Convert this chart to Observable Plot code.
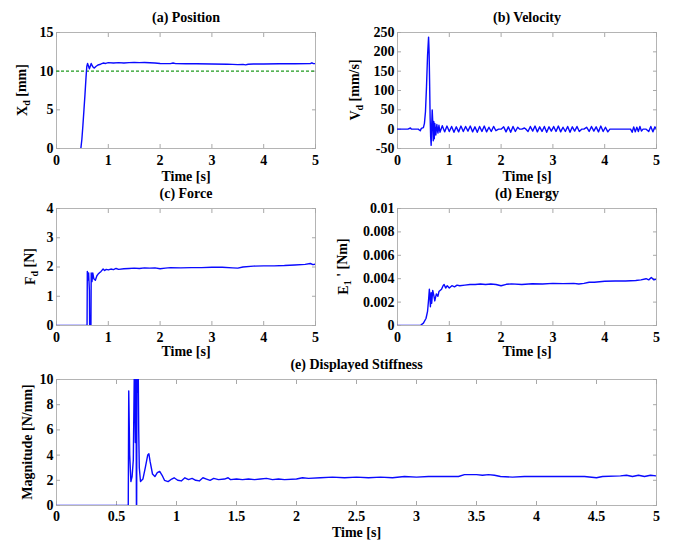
<!DOCTYPE html>
<html><head><meta charset="utf-8">
<script src="https://cdn.jsdelivr.net/npm/d3@7"></script>
<script src="https://cdn.jsdelivr.net/npm/@observablehq/plot@0.6"></script>
<style>
body{margin:0;background:#fff}
#chart{position:relative;width:673px;height:545px;background:#fff;overflow:hidden}
#chart svg{position:absolute}
#chart svg, #chart svg text, #chart svg tspan{font-family:"Liberation Serif","Times New Roman",serif !important;font-weight:bold !important}
</style>
</head><body><div id="chart"></div>
<script>
// ---------- data ----------
const timeTicks = [0, 1, 2, 3, 4, 5];
const timeTicksE = [0, 0.5, 1, 1.5, 2, 2.5, 3, 3.5, 4, 4.5, 5];
const posTicks = [0, 5, 10, 15];
const velTicks = [-50, 0, 50, 100, 150, 200, 250];
const forceTicks = [0, 1, 2, 3, 4];
const energyTicks = [0, 0.002, 0.004, 0.006, 0.008, 0.01];
const stiffTicks = [0, 2, 4, 6, 8, 10];
const positionReference = [10];

const positionData = [
  [0.47,0],[0.49,1.2],[0.51,3],[0.53,5],[0.55,7],[0.57,9.2],[0.585,10.6],[0.6,11.0],
  [0.62,10.6],[0.635,10.3],[0.65,10.6],[0.67,11.0],[0.69,10.7],[0.71,10.5],[0.73,10.4],
  [0.76,10.6],[0.8,10.8],[0.85,10.9],[0.9,11.05],[0.95,11.0],[1.0,11.1],[1.1,11.05],
  [1.2,11.1],[1.3,11.05],[1.4,11.1],[1.5,11.12],[1.6,11.1],[1.7,11.12],[1.8,11.08],
  [1.9,11.05],[2.0,11.0],[2.2,10.98],[2.25,11.05],[2.3,10.97],[2.5,10.95],[2.7,10.95],
  [3.0,10.92],[3.3,10.9],[3.4,10.88],[3.5,10.85],[3.6,10.88],[3.65,10.82],[3.7,10.9],
  [3.8,10.92],[4.0,10.93],[4.3,10.95],[4.6,10.95],[4.9,10.97],[4.93,11.08],[4.96,10.97],[5.0,10.97]
];

const velocityData = [
  [0,0],[0.1,0],[0.2,0],[0.25,3],[0.27,0],[0.4,0],[0.44,-4],[0.46,2],[0.5,4],[0.52,15],
  [0.54,45],[0.56,110],[0.58,190],[0.6,238],[0.61,200],[0.62,120],[0.63,30],[0.64,-20],
  [0.65,-42],[0.66,10],[0.67,50],[0.68,20],[0.69,-30],[0.7,20],[0.71,-25],[0.72,15],
  [0.74,-15],[0.76,12],[0.78,-10],[0.8,10],
  [0.82,-8],[0.865,9],[0.91,-7],[0.955,8],[1.0,-6],[1.045,7],[1.09,-8],[1.135,6],[1.18,-7],
  [1.225,8],[1.27,-6],[1.315,7],[1.36,-5],[1.405,8],[1.45,-7],[1.495,6],[1.54,-8],[1.585,7],
  [1.63,-6],[1.675,8],[1.72,-7],[1.765,5],[1.81,-6],[1.855,7],[1.9,-4],[1.95,0],[2.0,0],
  [2.05,6],[2.095,-7],[2.14,6],[2.185,-8],[2.23,7],[2.275,-6],[2.32,5],[2.36,0],[2.4,0],
  [2.45,3],[2.48,0],[2.52,-6],[2.565,7],[2.61,-5],[2.655,8],[2.7,-7],[2.745,6],[2.79,-6],
  [2.835,7],[2.88,-8],[2.925,6],[2.97,-5],[3.015,7],[3.06,-6],[3.105,8],[3.15,-7],[3.195,5],
  [3.24,-6],[3.285,7],[3.33,-8],[3.375,6],[3.42,-5],[3.465,7],[3.51,-6],[3.555,0],[3.6,0],
  [3.65,5],[3.7,-6],[3.745,7],[3.79,-5],[3.835,6],[3.88,-7],[3.925,8],[3.97,-6],[4.015,5],
  [4.06,-7],[4.1,0],[4.2,0],[4.3,0],[4.4,0],[4.5,0],[4.53,-8],[4.56,6],[4.59,-7],[4.62,5],
  [4.65,-6],[4.68,7],[4.71,-5],[4.74,0],[4.8,0],[4.85,-6],[4.89,7],[4.93,-7],[4.97,6],[5.0,0]
];

const forceData = [
  [0,0],[0.59,0],[0.595,1.85],[0.61,1.55],[0.62,1.8],[0.635,1.2],[0.64,0],[0.665,0],
  [0.67,1.8],[0.685,1.5],[0.7,1.8],[0.72,1.6],[0.75,1.55],[0.78,1.7],[0.8,1.75],[0.83,1.8],
  [0.86,1.85],[0.9,1.93],[0.93,1.88],[0.96,1.92],[1.0,1.9],[1.05,1.93],[1.1,1.91],[1.15,1.95],
  [1.2,1.92],[1.3,1.94],[1.4,1.95],[1.5,1.96],[1.6,1.95],[1.7,1.97],[1.8,1.96],[1.9,1.97],
  [2.0,1.94],[2.1,1.96],[2.2,1.98],[2.4,1.97],[2.6,1.98],[2.8,1.98],[3.0,1.99],[3.2,1.99],
  [3.4,1.97],[3.5,1.96],[3.6,2.0],[3.8,2.03],[4.0,2.04],[4.2,2.04],[4.4,2.05],[4.6,2.07],
  [4.8,2.09],[4.9,2.12],[4.95,2.08],[5.0,2.1]
];

const energyData = [
  [0,0],[0.4,0],[0.45,0.00003],[0.5,0.0002],[0.55,0.0006],[0.58,0.0012],[0.6,0.0022],
  [0.615,0.0031],[0.625,0.0025],[0.635,0.0016],[0.65,0.0028],[0.66,0.0019],[0.68,0.003],
  [0.7,0.0026],[0.72,0.0021],[0.75,0.0027],[0.78,0.0025],[0.8,0.0029],[0.85,0.0031],
  [0.88,0.0034],[0.9,0.0035],[0.93,0.0032],[0.96,0.0034],[1.0,0.0032],[1.05,0.0034],
  [1.1,0.0033],[1.15,0.00345],[1.2,0.0034],[1.3,0.00345],[1.4,0.0035],[1.5,0.0035],
  [1.6,0.00355],[1.7,0.0035],[1.8,0.00355],[1.9,0.0035],[2.0,0.0034],[2.1,0.00352],
  [2.2,0.00356],[2.4,0.0035],[2.6,0.00357],[2.8,0.00355],[3.0,0.0036],[3.2,0.00358],
  [3.4,0.0036],[3.5,0.00355],[3.6,0.0036],[3.7,0.0037],[3.8,0.0037],[4.0,0.00378],
  [4.2,0.0038],[4.4,0.0038],[4.6,0.00385],[4.7,0.0039],[4.8,0.004],[4.85,0.0039],
  [4.9,0.0041],[4.95,0.0039],[5.0,0.00395]
];

const stiffnessData = [
  [0,0],[0.598,0],[0.602,9.1],[0.61,4],[0.62,1.9],[0.63,2.3],[0.64,3.6],[0.65,12],
  [0.657,5],[0.662,12],[0.666,0],[0.668,0],[0.671,12],[0.676,9],[0.68,12],[0.685,6],
  [0.69,3],[0.7,1.9],[0.72,2.1],[0.74,3.0],[0.76,4.0],[0.77,4.1],[0.78,3.5],[0.8,2.5],
  [0.82,2.3],[0.84,2.6],[0.86,2.7],[0.88,2.4],[0.9,2.0],[0.93,1.9],[0.96,2.1],[0.98,2.2],
  [1.01,2.0],[1.04,1.95],[1.07,2.2],[1.1,2.05],[1.13,2.15],[1.16,2.0],[1.19,1.95],[1.22,2.2],
  [1.25,2.1],[1.28,2.0],[1.31,2.15],[1.35,2.05],[1.4,2.1],[1.43,2.2],[1.45,2.05],[1.5,2.1],
  [1.55,2.05],[1.6,2.1],[1.65,2.05],[1.7,2.1],[1.75,2.15],[1.8,2.05],[1.85,2.1],[1.9,2.05],
  [2.0,2.1],[2.05,2.2],[2.1,2.15],[2.2,2.2],[2.3,2.25],[2.4,2.2],[2.5,2.25],[2.6,2.2],
  [2.7,2.25],[2.8,2.2],[2.9,2.3],[3.0,2.25],[3.1,2.3],[3.2,2.3],[3.35,2.3],[3.4,2.45],
  [3.5,2.45],[3.55,2.4],[3.6,2.45],[3.65,2.4],[3.7,2.3],[3.8,2.25],[3.9,2.3],[4.0,2.3],
  [4.1,2.3],[4.2,2.3],[4.4,2.3],[4.5,2.2],[4.55,2.3],[4.7,2.35],[4.75,2.4],[4.8,2.3],
  [4.85,2.4],[4.9,2.3],[4.95,2.4],[5.0,2.35]
];

const titles = ["(a) Position", "(b) Velocity", "(c) Force", "(d) Energy", "(e) Displayed Stiffness"];
const xLabel = "Time [s]";
const yLabelA = [["X"], ["d", "sub"], [" [mm]"]];
const yLabelB = [["V"], ["d", "sub"], [" [mm/s]"]];
const yLabelC = [["F"], ["d", "sub"], [" [N]"]];
const yLabelD = [["E"], ["1", "sub"], [" '"], [" [Nm]"]];
const yLabelE = [["Magnitude [N/mm]"]];

// ---------- drawing ----------
const FONT = "Liberation Serif, serif";
const LINE = "#0a0aff";
const TICK = "#a8a8a8";
const chart = document.getElementById("chart");

function panel(cfg) {
  const {left, top, width, height, mt, mr, mb, ml, xTicks, yTicks, yDomain, data, title, ylab, ylabOff,
         xPad = 11, xLabDy = 32, extra = []} = cfg;
  const fmt = d => String(d);
  const svg = Plot.plot({
    width, height, marginTop: mt, marginRight: mr, marginBottom: mb, marginLeft: ml,
    style: {fontFamily: FONT, fontSize: "14px", fontWeight: "bold", background: "transparent", overflow: "visible", color: "black"},
    x: {domain: [0, 5]},
    y: {domain: yDomain},
    marks: [
      Plot.frame({stroke: "#b4b4b4"}),
      Plot.axisX(xTicks, {tickSize: -4, tickPadding: xPad, stroke: TICK, fill: "black", tickFormat: fmt, label: null, fontSize: 14}),
      Plot.axisX(xTicks, {anchor: "top", tickSize: -4, stroke: TICK, tickFormat: () => "", label: null}),
      Plot.axisY(yTicks, {tickSize: -4, tickPadding: 7, stroke: TICK, fill: "black", tickFormat: fmt, label: null, fontSize: 14}),
      Plot.axisY(yTicks, {anchor: "right", tickSize: -4, stroke: TICK, tickFormat: () => "", label: null}),
      ...extra,
      Plot.line(data, {x: d => d[0], y: d => d[1], stroke: LINE, strokeWidth: 1.4, clip: true}),
      Plot.text([title], {frameAnchor: "top", dy: -20, fontSize: 14, fontWeight: "bold"}),
      Plot.text([xLabel], {frameAnchor: "bottom", dy: xLabDy, fontSize: 14, fontWeight: "bold"})
    ]
  });
  svg.setAttribute("font-family", FONT);
  svg.setAttribute("font-weight", "bold");
  svg.style.left = left + "px";
  svg.style.top = top + "px";
  const cy = (mt + height - mb) / 2;
  const t = d3.select(svg).append("text")
    .attr("transform", `translate(${ml - ylabOff},${cy}) rotate(-90)`)
    .attr("text-anchor", "middle")
    .attr("dy", "0.35em")
    .attr("font-size", 14)
    .attr("font-weight", "bold")
    .attr("fill", "black");
  let shifted = false;
  for (const [s, kind] of ylab) {
    const sp = t.append("tspan").text(s);
    if (kind === "sub") { sp.attr("dy", "0.3em").attr("font-size", "10px"); shifted = true; }
    else if (shifted) { sp.attr("dy", "-0.3em"); shifted = false; }
  }
  chart.appendChild(svg);
}

panel({left: 0, top: 0, width: 336, height: 190, mt: 32, mr: 21, mb: 42, ml: 56,
  xTicks: timeTicks, yTicks: posTicks, yDomain: [0, 15], data: positionData, title: titles[0], ylab: yLabelA, ylabOff: 34,
  extra: [Plot.ruleY(positionReference, {stroke: "#1e9a1e", strokeWidth: 1.4, strokeDasharray: "3,2"})]});
panel({left: 336, top: 0, width: 337, height: 190, mt: 32, mr: 17, mb: 42, ml: 61,
  xTicks: timeTicks, yTicks: velTicks, yDomain: [-50, 250], data: velocityData, title: titles[1], ylab: yLabelB, ylabOff: 42});
panel({left: 0, top: 190, width: 336, height: 168, mt: 18, mr: 21, mb: 33, ml: 56,
  xTicks: timeTicks, yTicks: forceTicks, yDomain: [0, 4], data: forceData, title: titles[2], ylab: yLabelC, ylabOff: 26, xLabDy: 30});
panel({left: 336, top: 190, width: 337, height: 168, mt: 18, mr: 17, mb: 33, ml: 61,
  xTicks: timeTicks, yTicks: energyTicks, yDomain: [0, 0.01], data: energyData, title: titles[3], ylab: yLabelD, ylabOff: 54, xLabDy: 30});
panel({left: 0, top: 358, width: 673, height: 187, mt: 21, mr: 17, mb: 40, ml: 56,
  xTicks: timeTicksE, yTicks: stiffTicks, yDomain: [0, 10], data: stiffnessData, title: titles[4], ylab: yLabelE, ylabOff: 29,
  xPad: 10, xLabDy: 31});
</script></body></html>
